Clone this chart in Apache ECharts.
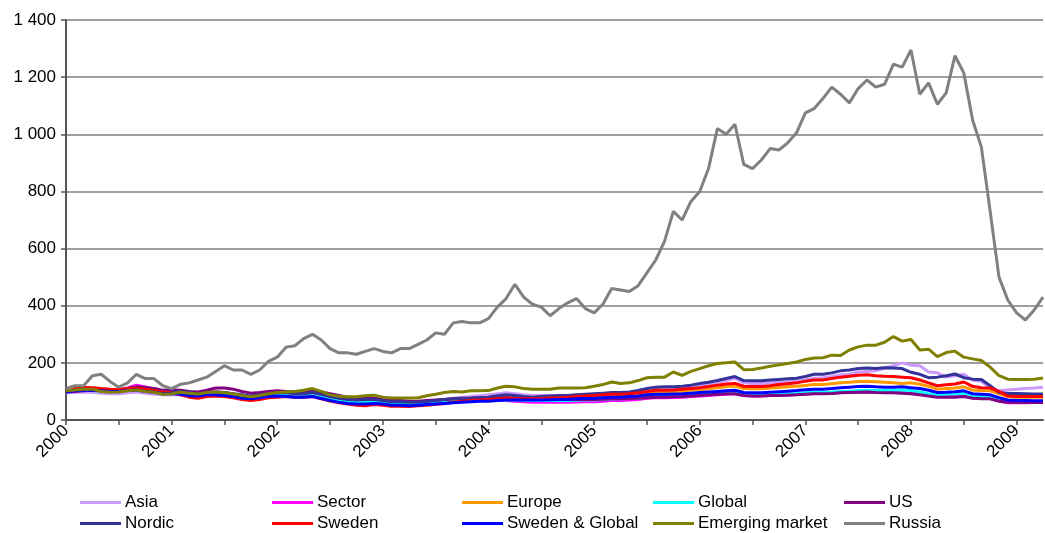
<!DOCTYPE html>
<html>
<head>
<meta charset="utf-8">
<script src="https://cdn.jsdelivr.net/npm/echarts@6/dist/echarts.min.js"></script>
<style>
  html, body { margin: 0; padding: 0; background: #fff; }
  #chart { width: 1045px; height: 533px; }
</style>
</head>
<body>
<div id="chart"></div>
<script>
// months Jan 2000 .. Apr 2009
const months = [];
for (let y = 2000; y <= 2009; y++) {
  for (let m = 1; m <= 12; m++) {
    if (y === 2009 && m > 4) break;
    months.push(y + '-' + (m < 10 ? '0' + m : m));
  }
}

const asia = [
  95, 96, 98, 97, 94, 92, 92, 95, 98, 94, 90, 88,
  88, 88, 86, 85, 88, 90, 90, 86, 82, 80, 83, 88,
  90, 90, 88, 88, 88, 82, 76, 72, 68, 66, 68, 68,
  64, 60, 60, 58, 60, 64, 68, 72, 76, 80, 82, 85,
  88, 92, 95, 92, 88, 86, 86, 86, 86, 84, 84, 86,
  86, 88, 92, 92, 94, 98, 104, 110, 110, 112, 112, 118,
  122, 126, 132, 138, 146, 130, 128, 128, 130, 132, 134, 136,
  140, 146, 148, 152, 158, 160, 168, 170, 172, 182, 190, 200,
  192, 190, 168, 165, 150, 155, 160, 140, 135, 112, 102, 105,
  108, 110, 112, 115
];
const sector = [
  100, 104, 106, 104, 104, 103, 104, 112, 122, 116, 108, 102,
  102, 98, 94, 92, 96, 98, 96, 90, 84, 80, 84, 88,
  90, 88, 86, 86, 86, 80, 74, 68, 64, 62, 62, 62,
  60, 56, 56, 54, 56, 58, 60, 62, 64, 66, 66, 68,
  68, 68, 68, 66, 64, 62, 62, 62, 62, 62, 63, 64,
  64, 66, 68, 68, 70, 72, 76, 78, 78, 79, 80, 82,
  84, 86, 88, 90, 92, 86, 84, 84, 86, 87, 88, 89,
  91, 93, 93, 94, 96, 97, 98, 99, 97, 96, 96, 95,
  93, 90, 86, 82, 82, 83, 85, 78, 76, 75, 66, 60,
  60, 60, 61, 62
];
const europe = [
  100, 104, 106, 104, 102, 100, 100, 104, 106, 102, 98, 95,
  94, 92, 88, 86, 90, 92, 90, 86, 80, 76, 80, 86,
  88, 88, 86, 86, 86, 80, 74, 68, 64, 62, 64, 66,
  62, 58, 58, 56, 58, 60, 63, 66, 68, 70, 72, 74,
  76, 78, 80, 79, 78, 78, 79, 80, 81, 82, 83, 85,
  86, 87, 88, 88, 89, 91, 95, 98, 99, 100, 101, 104,
  106, 109, 113, 116, 119, 110, 109, 109, 112, 114, 116, 118,
  121, 124, 124, 127, 130, 132, 135, 136, 134, 132, 130, 128,
  130, 125, 118, 108, 110, 112, 116, 105, 103, 102, 92, 82,
  80, 80, 80, 80
];
const global = [
  100, 103, 104, 103, 101, 100, 101, 104, 108, 104, 100, 96,
  97, 96, 92, 90, 94, 95, 92, 88, 82, 80, 84, 88,
  90, 88, 86, 86, 86, 80, 72, 68, 64, 62, 62, 64,
  60, 56, 56, 54, 56, 58, 60, 62, 64, 65, 66, 68,
  68, 70, 71, 70, 69, 68, 68, 68, 68, 68, 69, 70,
  70, 72, 74, 74, 75, 77, 80, 82, 82, 83, 84, 86,
  88, 90, 92, 94, 96, 88, 87, 87, 89, 90, 92, 93,
  95, 97, 97, 98, 100, 101, 103, 104, 103, 103, 104, 105,
  103, 98, 92, 88, 90, 91, 93, 84, 82, 80, 72, 66,
  64, 63, 62, 62
];
const us = [
  98, 100, 102, 104, 102, 102, 104, 110, 116, 114, 110, 104,
  106, 104, 100, 98, 104, 112, 112, 108, 100, 94, 96, 100,
  102, 100, 98, 98, 102, 98, 92, 86, 80, 78, 76, 76,
  72, 68, 68, 66, 66, 68, 70, 72, 74, 76, 76, 78,
  78, 78, 78, 76, 74, 73, 72, 72, 72, 72, 72, 73,
  72, 73, 74, 74, 75, 76, 78, 80, 80, 81, 82, 84,
  86, 88, 90, 92, 92, 86, 84, 84, 86, 86, 87, 88,
  90, 92, 92, 93, 95, 96, 97, 98, 96, 95, 95, 94,
  92, 88, 84, 80, 80, 80, 82, 76, 74, 74, 66, 62,
  62, 61, 61, 61
];
const nordic = [
  100, 105, 110, 108, 105, 103, 103, 108, 112, 108, 105, 100,
  98, 100, 96, 92, 95, 98, 96, 92, 88, 84, 88, 92,
  95, 95, 92, 92, 96, 90, 82, 76, 72, 70, 72, 72,
  68, 64, 64, 62, 62, 65, 68, 72, 74, 75, 76, 78,
  80, 85, 88, 86, 82, 80, 82, 84, 86, 86, 88, 90,
  92, 94, 96, 96, 98, 103, 110, 115, 116, 116, 118, 122,
  128, 132, 138, 145, 152, 138, 137, 137, 140, 142, 144, 146,
  152, 160, 160, 165, 172, 175, 180, 182, 180, 183, 182, 180,
  167, 160, 148, 150, 155, 161, 148, 143, 142, 120, 96, 93,
  93, 92, 91, 91
];
const sweden = [
  100, 110, 115, 113, 110, 108, 107, 110, 112, 108, 104, 98,
  95, 88, 80, 76, 82, 84, 82, 78, 72, 68, 72, 78,
  80, 82, 80, 80, 82, 74, 66, 60, 56, 52, 50, 54,
  52, 48, 48, 47, 50, 52, 55, 58, 62, 66, 68, 70,
  72, 74, 76, 75, 74, 74, 75, 77, 78, 80, 82, 84,
  86, 88, 90, 90, 92, 95, 100, 104, 104, 105, 108, 110,
  113, 117, 122, 126, 128, 118, 117, 117, 120, 124, 127, 130,
  136, 140, 140, 145, 150, 153, 157, 158, 155, 153, 152, 150,
  148, 140, 130, 120, 123, 126, 133, 118, 113, 112, 100, 84,
  82, 82, 82, 82
];
const swedenGlobal = [
  98, 102, 105, 104, 102, 100, 100, 103, 105, 100, 97, 92,
  93, 90, 85, 84, 88, 88, 86, 82, 76, 74, 78, 82,
  84, 82, 80, 80, 82, 75, 68, 62, 58, 56, 56, 58,
  56, 52, 52, 50, 52, 54, 56, 58, 60, 62, 64, 66,
  66, 68, 70, 70, 70, 70, 70, 71, 72, 73, 74, 75,
  76, 78, 80, 80, 82, 84, 88, 90, 90, 91, 92, 94,
  96, 98, 100, 102, 104, 96, 95, 95, 97, 99, 101, 103,
  106, 108, 108, 110, 113, 115, 117, 118, 116, 115, 115, 116,
  113, 110, 104, 96, 97, 99, 102, 92, 90, 88, 78, 70,
  68, 68, 67, 67
];
const emerging = [
  102, 105, 108, 108, 100, 97, 98, 102, 105, 100, 97, 90,
  92, 97, 94, 91, 96, 98, 95, 91, 86, 81, 86, 92,
  96, 98, 100, 104, 110, 100, 88, 83, 81, 81, 85, 87,
  80, 77, 77, 77, 78, 85, 90, 96, 100, 98, 102, 102,
  103, 112, 118, 116, 110, 108, 108, 108, 112, 112, 112, 113,
  118, 124, 133, 128, 130, 138, 148, 150, 150, 168, 156, 170,
  180, 190, 198, 200, 203, 176, 177, 182, 188, 193, 198, 203,
  212, 217, 218, 227, 226, 245, 256, 262, 262, 272, 292, 276,
  282, 245, 248, 222, 236, 241, 220, 214, 208, 185, 155, 143,
  142, 142, 143, 147
];
const russia = [
  110, 120, 120, 155, 160, 135, 115, 130, 160, 145, 145, 120,
  110, 125, 130, 140, 150, 170, 190, 175, 175, 160, 175, 205,
  220, 255, 260, 285, 300, 280, 250, 235, 235, 230, 240, 250,
  240, 235, 250, 250, 265, 280, 305, 300, 340, 345, 340, 340,
  355, 395, 425, 475, 430, 405, 395, 365, 390, 410, 425, 390,
  375, 405, 460, 455, 450, 470, 515, 560, 625, 730, 700, 765,
  800, 880, 1020, 1000, 1035, 895, 880, 910, 950, 945, 970, 1005,
  1075, 1090, 1125, 1165, 1140, 1110, 1160, 1190, 1165, 1175, 1245, 1235,
  1295, 1140, 1180, 1105, 1145, 1275, 1215, 1050, 955, 730, 500, 420,
  375, 350, 385, 430
];

const seriesNames = ['Asia', 'Sector', 'Europe', 'Global', 'US',
  'Nordic', 'Sweden', 'Sweden & Global', 'Emerging market', 'Russia'];
const seriesData = [asia, sector, europe, global, us,
  nordic, sweden, swedenGlobal, emerging, russia];
const colors = ['#CC99FF', '#FF00FF', '#FF9900', '#00FFFF', '#800080',
  '#333399', '#FF0000', '#0000FF', '#808000', '#808080'];

const font = 'Liberation Sans, Arial, sans-serif';

// one legend per column, two rows each
const legendCols = [80, 272, 462, 653, 844];
const legends = legendCols.map((left, c) => ({
  left: left,
  top: 494,
  orient: 'vertical',
  itemGap: 4,
  itemWidth: 41,
  itemHeight: 3,
  icon: 'rect',
  padding: 0,
  textStyle: { fontFamily: font, fontSize: 17, color: '#000', padding: [0, 0, 0, -1] },
  data: [seriesNames[c], seriesNames[c + 5]]
}));

const chart = echarts.init(document.getElementById('chart'));
chart.setOption({
  animation: false,
  color: colors,
  grid: { left: 66, right: 2, top: 20, bottom: 113 },
  legend: legends,
  xAxis: {
    type: 'category',
    data: months,
    boundaryGap: false,
    axisLine: { lineStyle: { color: '#555', width: 2 } },
    axisTick: { interval: 5, length: 5, lineStyle: { color: '#555', width: 1.5 } },
    axisLabel: {
      interval: 11,
      rotate: 45,
      margin: 8,
      fontFamily: font,
      fontSize: 17,
      color: '#000',
      formatter: v => v.slice(0, 4)
    }
  },
  yAxis: {
    type: 'value',
    min: 0,
    max: 1400,
    interval: 200,
    axisLine: { show: true, lineStyle: { color: '#555', width: 2 } },
    axisTick: { show: true, length: 5, lineStyle: { color: '#555', width: 1.5 } },
    splitLine: { lineStyle: { color: '#808080', width: 1.5 } },
    axisLabel: {
      margin: 10,
      fontFamily: font,
      fontSize: 17,
      color: '#000',
      formatter: v => String(v).replace(/\B(?=(\d{3})+(?!\d))/g, ' ')
    }
  },
  series: seriesNames.map((name, k) => ({
    name: name,
    type: 'line',
    data: seriesData[k],
    symbol: 'none',
    lineStyle: { width: 3, color: colors[k] },
    itemStyle: { color: colors[k] }
  }))
});
</script>
</body>
</html>
